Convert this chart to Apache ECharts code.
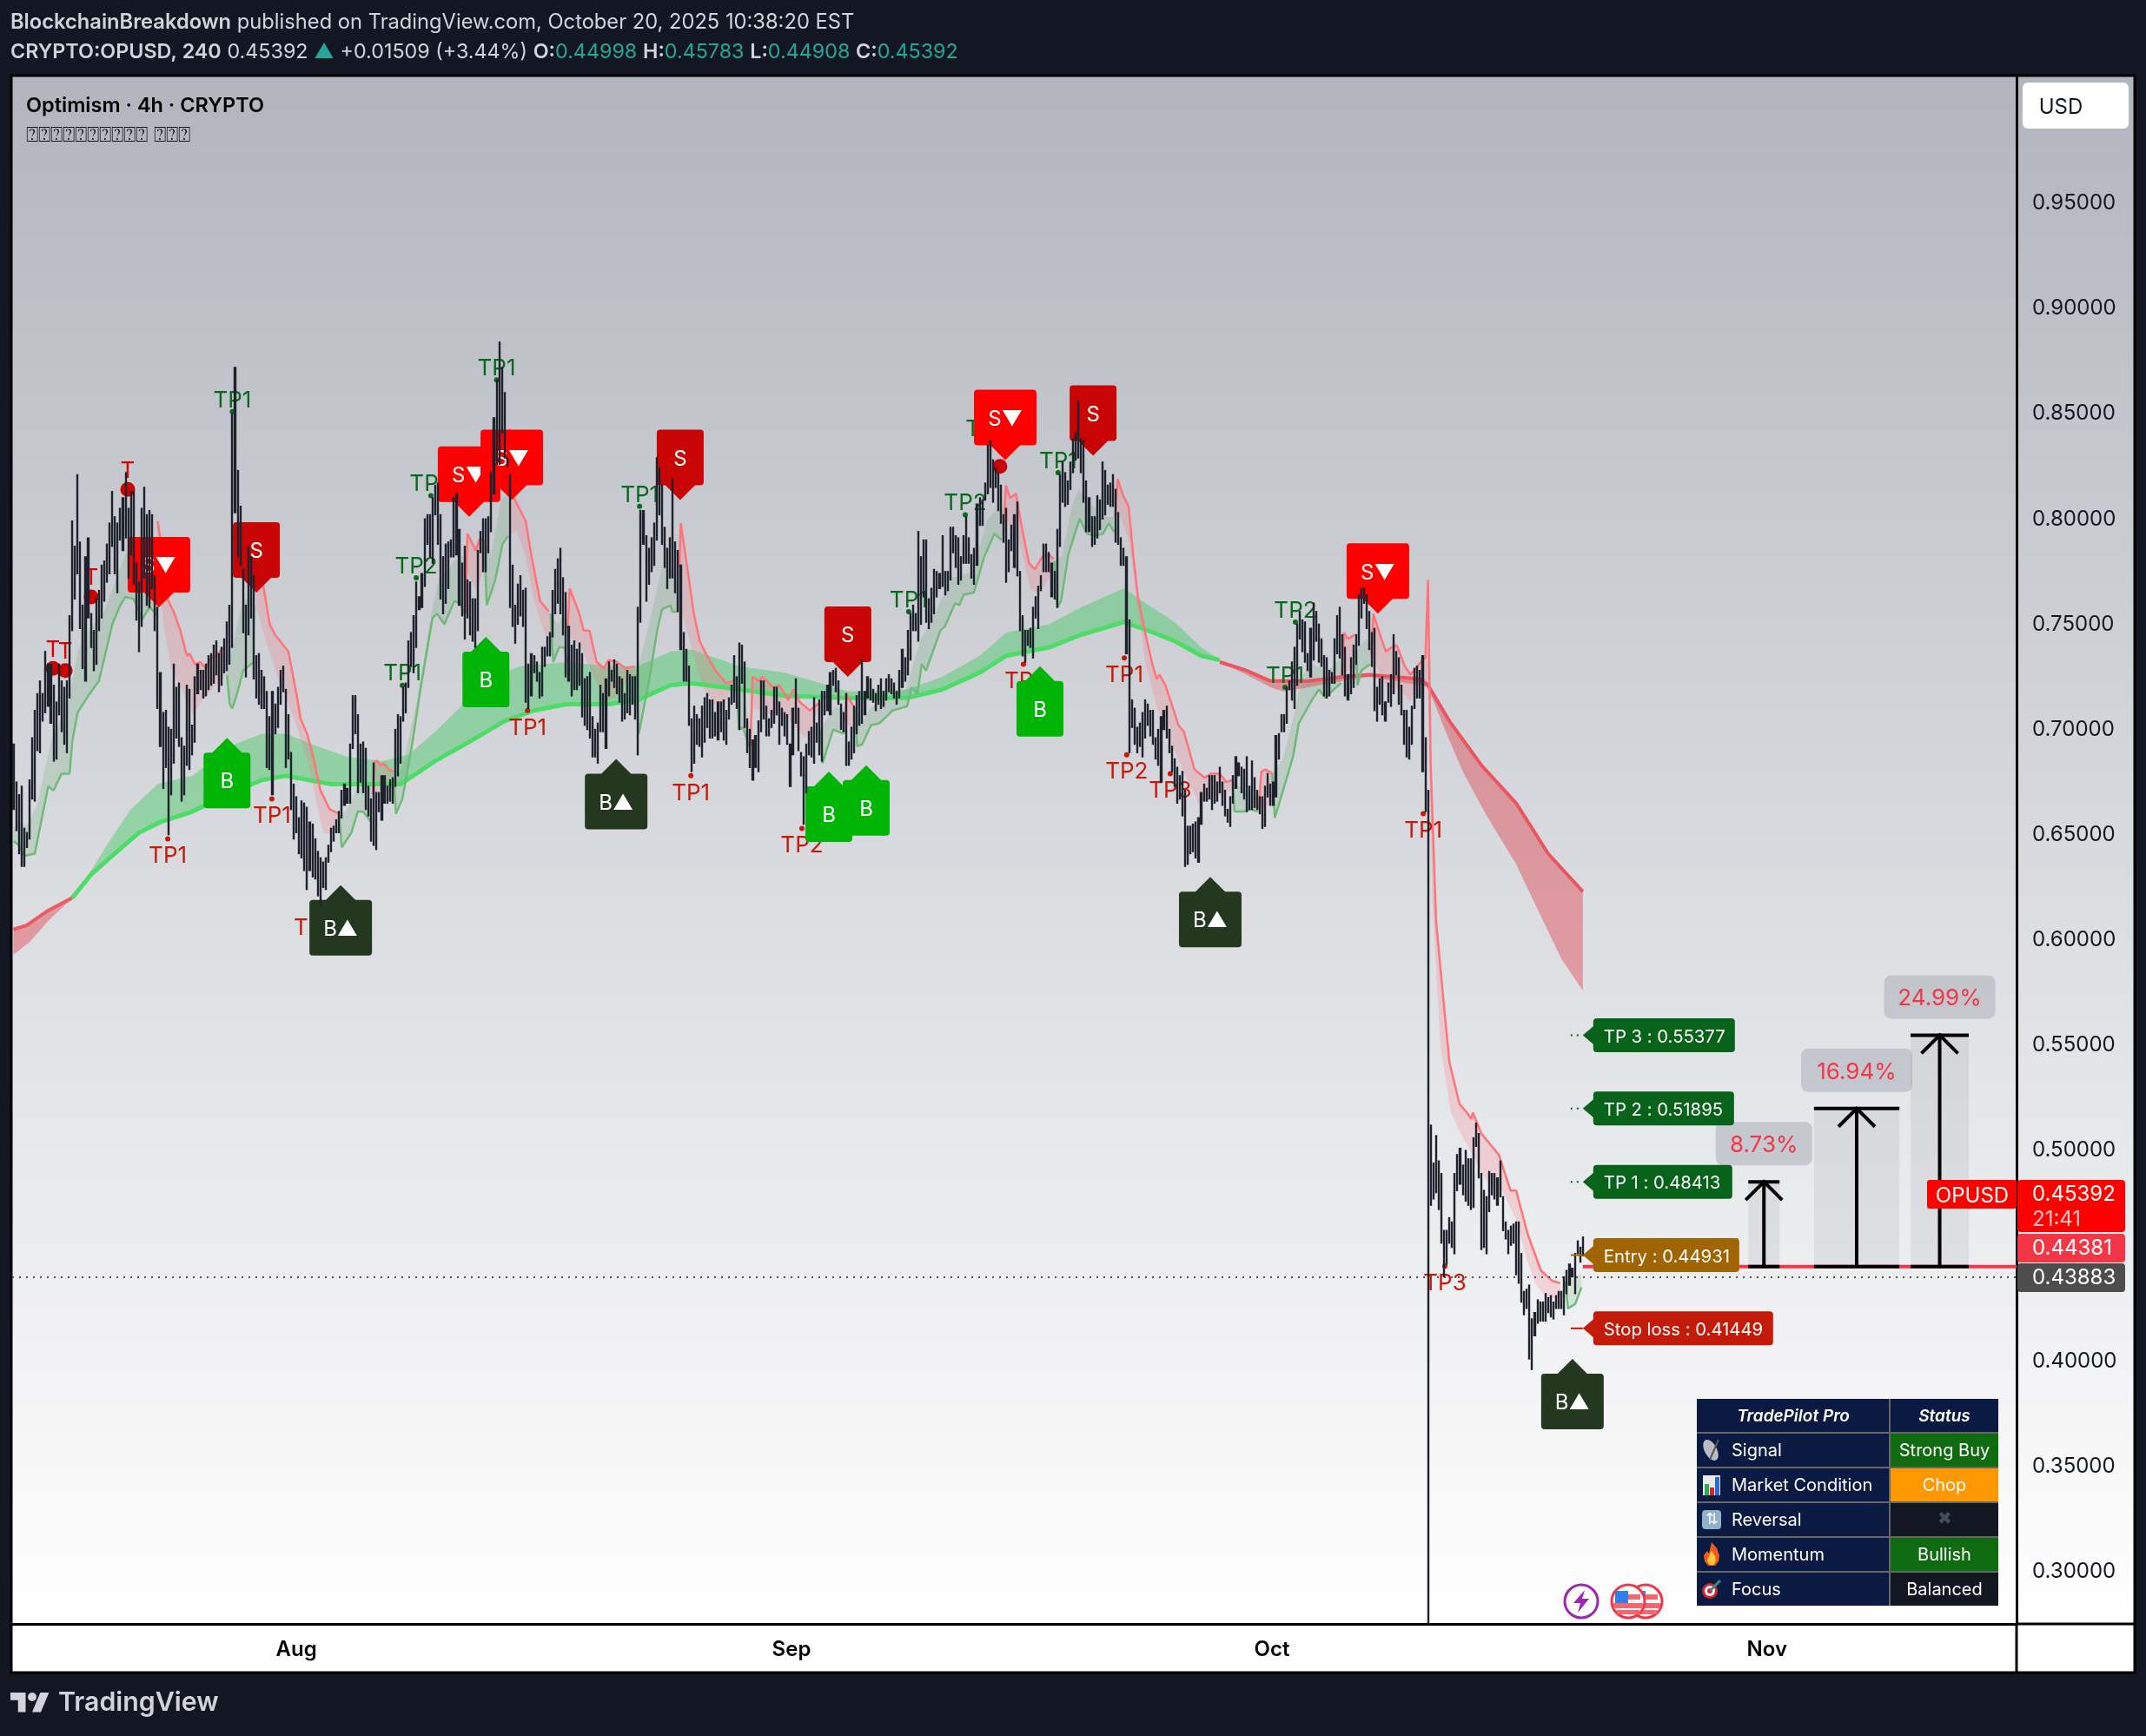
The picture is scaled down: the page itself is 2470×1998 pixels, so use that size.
<!DOCTYPE html>
<html><head><meta charset="utf-8"><style>html,body{margin:0;padding:0;background:#131722}#c{width:2470px;height:1998px}</style>
<script src="https://cdn.jsdelivr.net/npm/echarts@6/dist/echarts.min.js"></script></head><body><div id="c"></div>
<script>
const barRanges=[[.692,.661],[.674,.651],[.668,.640],[.672,.634],[.652,.634],[.650,.643],[.675,.647],[.695,.666],[.708,.665],[.716,.689],
[.722,.688],[.716,.703],[.736,.707],[.730,.710],[.730,.702],[.720,.684],[.712,.685],[.730,.706],[.722,.698],[.719,.692],
[.722,.688],[.753,.714],[.798,.746],[.786,.761],[.820,.773],[.788,.747],[.758,.728],[.781,.722],[.790,.752],[.754,.738],
[.746,.727],[.761,.730],[.765,.746],[.777,.752],[.779,.760],[.787,.769],[.797,.773],[.812,.786],[.800,.773],[.797,.764],
[.804,.789],[.809,.784],[.821,.790],[.804,.771],[.812,.782],[.812,.768],[.778,.751],[.769,.736],[.804,.748],[.814,.771],
[.801,.758],[.803,.757],[.801,.766],[.772,.746],[.757,.709],[.726,.691],[.707,.671],[.708,.681],[.700,.649],[.699,.668],
[.730,.683],[.719,.695],[.721,.691],[.695,.665],[.691,.668],[.720,.682],[.718,.680],[.701,.687],[.724,.693],[.730,.716],
[.727,.718],[.727,.714],[.730,.715],[.734,.718],[.735,.720],[.739,.721],[.741,.725],[.735,.717],[.738,.720],[.742,.726],
[.750,.727],[.758,.730],[.849,.738],[.871,.802],[.822,.781],[.805,.777],[.775,.745],[.758,.724],[.786,.744],[.781,.752],
[.772,.723],[.734,.714],[.735,.711],[.727,.709],[.724,.709],[.717,.681],[.705,.680],[.717,.668],[.711,.697],[.719,.700],
[.727,.711],[.729,.717],[.718,.681],[.706,.685],[.688,.661],[.673,.647],
[.667,.650],[.657,.640],[.665,.638],[.664,.632],[.662,.623],[.655,.632],[.654,.629],[.647,.628],[.641,.620],[.638,.615],
[.636,.624],[.638,.623],[.644,.636],[.652,.641],[.653,.646],[.656,.650],[.660,.650],[.670,.657],[.673,.663],[.671,.664],
[.692,.664],[.715,.690],[.715,.697],[.706,.669],[.692,.674],[.693,.669],[.690,.661],[.672,.658],[.666,.646],[.683,.644],
[.669,.642],[.669,.660],[.677,.656],[.677,.664],[.672,.664],[.675,.665],[.676,.664],[.699,.672],[.706,.677],[.705,.683],
[.719,.703],[.721,.707],[.741,.719],[.745,.729],[.753,.726],[.769,.738],[.762,.756],[.773,.757],[.799,.767],[.801,.787],
[.801,.781],[.809,.778],[.815,.801],[.816,.787],[.801,.761],[.781,.754],[.787,.759],[.788,.766],[.789,.781],[.809,.781],
[.811,.782],[.794,.758],[.778,.753],[.786,.742],[.770,.752],[.769,.744],[.761,.741],[.761,.738],[.784,.746],[.793,.783],
[.799,.774],[.799,.774],[.800,.783],[.821,.793],[.847,.811],[.865,.825],[.883,.825],[.871,.840],[.859,.828],[.828,.824],
[.820,.757],[.777,.748],[.758,.740],[.768,.749],[.772,.753],[.765,.748],[.766,.712],[.730,.709],[.735,.715],[.734,.726],
[.731,.722],[.726,.714],[.738,.715],[.738,.729],[.743,.734],[.745,.734],[.765,.743],[.775,.754],[.780,.759],[.785,.754],
[.771,.744],[.764,.724],[.748,.722],[.739,.715],[.741,.718],[.737,.718],
[.740,.720],[.735,.705],[.723,.701],[.724,.699],[.726,.695],[.705,.686],[.699,.686],[.702,.683],[.720,.698],[.716,.698],
[.723,.690],[.731,.715],[.727,.722],[.732,.719],[.730,.716],[.724,.712],[.723,.703],[.716,.704],[.727,.707],[.725,.706],
[.724,.711],[.724,.704],[.757,.687],[.803,.750],[.803,.787],[.791,.760],[.785,.768],[.790,.774],[.797,.777],[.828,.789],
[.823,.801],[.815,.787],[.795,.776],[.785,.766],[.790,.771],[.818,.771],[.788,.764],[.784,.755],[.777,.737],[.745,.722],
[.737,.722],[.729,.701],[.704,.679],[.710,.683],[.706,.692],[.704,.691],[.710,.686],[.714,.693],[.716,.700],[.713,.695],
[.713,.695],[.707,.696],[.712,.694],[.712,.698],[.713,.694],[.708,.692],[.714,.704],[.720,.711],[.734,.712],[.724,.709],
[.740,.699],[.739,.721],[.731,.700],[.704,.688],[.699,.681],[.694,.675],[.696,.681],[.703,.679],[.722,.698],[.722,.704],
[.710,.696],[.704,.696],[.708,.700],[.719,.702],[.719,.706],[.712,.692],[.709,.701],[.707,.696],[.706,.692],[.692,.672],
[.709,.687],[.723,.702],[.709,.689],[.688,.677],[.686,.654],[.692,.669],[.698,.687],[.700,.686],[.714,.683],[.702,.693],
[.713,.687],[.717,.684],[.717,.706],[.720,.708],[.726,.706],[.727,.720],[.728,.717],[.722,.711],[.711,.699],[.707,.698],
[.716,.682],[.693,.682],[.700,.685],[.710,.688],[.715,.697],[.717,.701],[.732,.702],
[.717,.706],[.724,.714],[.723,.713],[.718,.712],[.716,.708],[.720,.711],[.723,.709],[.717,.710],[.723,.713],[.725,.717],
[.723,.716],[.721,.714],[.717,.711],[.727,.714],[.737,.719],[.733,.722],[.746,.725],[.754,.732],[.758,.746],[.754,.746],
[.793,.741],[.781,.749],[.789,.762],[.789,.750],[.761,.747],[.766,.750],[.775,.754],[.774,.762],[.773,.766],[.791,.767],
[.774,.763],[.774,.765],[.795,.770],[.795,.783],[.791,.776],[.790,.768],[.781,.770],[.791,.778],[.800,.778],[.790,.778],
[.782,.771],[.785,.768],[.806,.777],[.809,.796],[.808,.796],[.816,.808],[.834,.811],[.836,.814],[.827,.807],[.823,.814],
[.821,.803],[.815,.797],[.801,.788],[.804,.769],[.789,.774],[.796,.784],[.801,.776],[.807,.772],[.774,.746],[.753,.734],
[.746,.731],[.746,.739],[.747,.738],[.757,.733],[.762,.752],[.767,.747],[.772,.765],[.787,.774],[.787,.774],[.783,.774],
[.778,.762],[.774,.761],[.794,.757],[.820,.786],[.826,.807],[.821,.805],[.817,.806],[.826,.813],[.837,.821],[.840,.827],
[.855,.828],[.837,.821],[.836,.807],[.817,.793],[.809,.793],[.800,.786],[.800,.787],[.810,.790],[.808,.794],[.826,.799],
[.822,.801],[.815,.806],[.816,.805],[.820,.805],[.813,.788],[.802,.787],[.790,.777],[.785,.777],[.781,.735],[.751,.688],
[.713,.700],[.709,.692],[.700,.688],[.702,.691],[.707,.686],[.713,.695],
[.711,.701],[.708,.696],[.708,.692],[.695,.685],[.699,.682],[.705,.674],[.708,.699],[.710,.695],[.699,.688],[.691,.679],
[.685,.672],[.681,.664],[.677,.666],[.679,.658],[.670,.634],[.653,.635],[.653,.640],[.654,.641],[.655,.638],[.657,.636],
[.669,.654],[.673,.665],[.671,.665],[.677,.666],[.677,.661],[.677,.664],[.674,.665],[.681,.669],[.674,.663],[.670,.658],
[.661,.655],[.667,.653],[.677,.664],[.686,.671],[.683,.677],[.681,.669],[.680,.666],[.686,.660],[.672,.661],[.684,.661],
[.676,.662],[.670,.661],[.667,.659],[.667,.652],[.672,.653],[.678,.667],[.673,.663],[.674,.663],[.696,.667],[.697,.685],
[.706,.698],[.706,.698],[.719,.702],[.722,.718],[.731,.713],[.738,.709],[.749,.720],[.755,.742],[.751,.736],[.750,.731],
[.735,.727],[.747,.724],[.759,.732],[.755,.741],[.749,.731],[.742,.729],[.734,.715],[.733,.714],[.727,.715],[.726,.721],
[.742,.721],[.753,.735],[.757,.733],[.744,.725],[.738,.715],[.725,.713],[.733,.716],[.739,.719],[.744,.730],[.763,.739],
[.766,.752],[.766,.759],[.763,.747],[.755,.737],[.745,.729],[.747,.708],[.719,.703],[.723,.711],[.724,.706],[.712,.703],
[.721,.712],[.725,.710],[.744,.716],[.736,.725],[.733,.711],[.720,.706],[.708,.692],[.708,.686],[.700,.685],[.710,.692],
[.728,.709],[.729,.714],[.727,.714],[.734,.679],[.695,.660],[.670,.2745],
[.511,.473],[.493,.476],[.506,.479],[.494,.471],[.488,.455],[.461,.439],[.461,.445],[.467,.455],[.465,.453],[.488,.450],
[.497,.480],[.500,.483],[.492,.478],[.499,.475],[.495,.473],[.495,.471],[.505,.472],[.512,.501],[.507,.486],[.488,.452],
[.480,.453],[.477,.450],[.489,.470],[.488,.478],[.488,.476],[.486,.473],[.494,.477],[.477,.461],[.465,.457],[.461,.450],
[.463,.454],[.464,.455],[.465,.440],[.465,.436],[.450,.427],[.432,.421],[.433,.424],[.435,.400],[.419,.395],[.422,.411],
[.428,.417],[.427,.418],[.427,.418],[.431,.418],[.429,.422],[.430,.420],[.427,.419],[.430,.424],[.432,.424],[.432,.424],
[.439,.421],[.442,.431],[.445,.435],[.443,.439],[.450,.431],[.456,.450],[.453,.446],[.45783,.44908]];

const slowRedStart={line:[[0,.604],[5,.606],[13,.613],[22,.619]],edge:[[0,.592],[6,.598],[13,.608],[22,.619]]};
const slowGreen={line:[[22,.619],[29,.630],[37,.639],[47,.650],[55,.655],[67,.660],[80,.668],[93,.675],[102,.677],[119,.673],[132,.673],[145,.673],[158,.684],[172,.694],[184,.703],[195,.708],[207,.711],[223,.711],[234,.713],[246,.720],[254,.721],[272,.718],[289,.715],[312,.714],[335,.714],[348,.718],[362,.726],[372,.734],[388,.738],[400,.744],[416,.750],[423,.747],[435,.741],[445,.734],[452,.732]],
edge:[[22,.619],[29,.632],[37,.648],[44,.661],[54,.673],[67,.677],[83,.692],[93,.697],[102,.697],[114,.691],[125,.686],[138,.684],[148,.687],[158,.698],[167,.709],[177,.723],[190,.729],[207,.731],[223,.729],[234,.729],[246,.736],[254,.737],[272,.729],[289,.726],[313,.717],[335,.718],[348,.724],[362,.734],[372,.745],[388,.749],[400,.757],[416,.766],[423,.760],[435,.750],[445,.738],[452,.732]]};
const slowRedEnd={line:[[452,.731],[462,.727],[471,.722],[476,.722],[485,.722],[498,.724],[508,.725],[517,.724],[527,.723],[530,.720],[538,.703],[550,.682],[563,.664],[575,.640],[588,.622]],
edge:[[452,.731],[462,.725],[471,.719],[476,.717],[485,.719],[498,.722],[508,.724],[517,.722],[527,.720],[530,.719],[536,.700],[543,.679],[552,.658],[563,.635],[572,.611],[580,.590],[588,.575]]};

const fastGreen=[
{line:[[0,.646],[2,.644],[4,.639],[8,.640],[10,.653],[13,.672],[15,.670],[18,.678],[21,.678],[22,.693],[24,.707],[28,.715],[32,.722],[35,.738],[37,.749],[40,.758],[42,.762],[45,.761],[47,.755],[48,.751],[51,.757],[54,.753]],edge:[[0,.652],[2,.656],[5,.653],[9,.664],[14,.693],[21,.714],[24,.736],[28,.746],[34,.755],[38,.769],[42,.782],[45,.788],[51,.788],[54,.772]]},
{line:[[80,.725],[81,.711],[82,.709],[84,.717],[86,.727],[88,.729],[90,.731]],edge:[[80,.725],[83,.744],[86,.761],[89,.762],[91,.757]]},
{line:[[122,.658],[123,.643],[126.6,.650],[129,.660],[131,.660],[134,.655]],edge:[[122,.658],[125,.661],[129,.672],[132,.672],[134,.672]]},
{line:[[142.7,.672],[143.3,.659],[145.7,.666],[149.5,.693],[152.7,.720],[157,.752],[158.7,.754],[161.4,.749],[165.2,.760],[167.4,.759],[168.8,.754]],edge:[[142.7,.672],[146,.683],[151,.712],[157,.757],[159,.769],[165.2,.779],[168.8,.782]]},
{line:[[176.4,.789],[177.3,.758],[180.5,.770],[183.2,.787],[185.3,.791]],edge:[[176.4,.789],[179,.782],[182.6,.808],[185.3,.811]]},
{line:[[201.2,.754],[202.2,.731],[204.4,.738],[206.5,.738],[207.3,.731]],edge:[[201.2,.754],[204,.749],[205.5,.753],[207.3,.752]]},
{line:[[233,.725],[234.3,.697],[238.1,.722],[241.3,.747],[243,.756],[246.2,.758],[246.8,.755],[248.7,.755]],edge:[[233,.725],[236,.738],[239,.754],[243,.776],[246,.776],[248.7,.769]]},
{line:[[270.7,.724],[271.8,.699],[273.4,.700],[275.6,.691]],edge:[[270.7,.724],[274,.716],[275.6,.699]]},
{line:[[302.4,.699],[303.1,.683],[307.1,.699],[310.9,.697],[311.5,.699]],edge:[[302.4,.699],[307.7,.710],[311.5,.709]]},
{line:[[315.3,.709],[316.1,.691],[318,.692],[321.3,.701],[324.5,.702],[329.4,.708],[334.8,.710],[336.5,.719],[338.7,.716],[340.3,.730],[341.9,.727],[347.3,.746],[349,.748],[352.8,.759],[354.4,.758],[356,.763],[359.8,.764],[363.7,.781],[367.5,.792],[370.2,.789]],edge:[[315.3,.709],[318,.703],[321.3,.710],[324.5,.712],[330,.716],[334.3,.718],[339.7,.741],[346.3,.757],[351.7,.771],[359.3,.774],[364.7,.798],[369,.805],[370.7,.804]]},
{line:[[390,.779],[391,.757],[392.5,.760],[395.2,.782],[397.9,.793],[399.5,.799],[402.2,.792],[405,.791],[408.2,.792],[410.4,.797],[412.3,.793]],edge:[[390,.779],[393,.782],[396.3,.804],[399,.813],[403.9,.806],[408.2,.800],[412.3,.800]]},
{line:[[456.8,.675],[457.5,.660],[461,.660],[463.7,.661],[466.2,.660]],edge:[[456.8,.675],[461,.670],[466.4,.668]]},
{line:[[471.6,.678],[472.6,.657],[479.4,.686],[481.6,.702],[486.5,.713],[489.2,.718],[491.4,.714],[494.7,.718],[497.4,.721]],edge:[[471.6,.678],[475.6,.685],[479.4,.704],[483.2,.725],[487,.730],[492,.727],[497.4,.733]]},
{line:[[503,.736],[503.6,.720],[505,.727],[508.2,.730]],edge:[[503,.736],[506.6,.742],[508.8,.741]]},
{line:[[581.5,.437],[582.4,.424],[585.1,.426],[587.5,.434]],edge:[[581.5,.437],[584.2,.438],[587.5,.441]]}];

const fastRed=[
{line:[[54,.798],[56,.781],[58,.760],[60,.755],[62.5,.746],[65,.734],[66,.735],[68,.730],[70,.731],[72,.728],[74,.733],[76,.734],[78,.737],[79,.738]],edge:[[54,.773],[56.5,.747],[59,.728],[63,.718],[67,.706],[72,.715],[76,.720],[79,.725]]},
{line:[[91,.773],[93.5,.768],[96,.749],[98,.744],[103,.736],[106,.716],[107.6,.704],[110,.697],[112.5,.685],[115,.670],[118.5,.661],[122,.659]],edge:[[91,.757],[94.5,.741],[100,.720],[106,.701],[108,.693],[111,.680],[113.6,.664],[116,.650],[119.6,.649],[122,.659]]},
{line:[[134.5,.668],[135.3,.684],[136.4,.684],[137.5,.682],[138.6,.683],[140.8,.680],[142.4,.679]],edge:[[134.5,.666],[138.6,.672],[142.4,.677]]},
{line:[[169.3,.754],[170.1,.792],[173.2,.784],[174.5,.789],[176.1,.789]],edge:[[169.3,.754],[170.1,.773],[173.4,.765],[176.1,.774]]},
{line:[[185.9,.842],[187.5,.809],[191.9,.798],[194,.782],[197.3,.760],[200.6,.755]],edge:[[185.9,.792],[188.6,.793],[191.9,.781],[195,.760],[199.5,.743],[201.4,.744]]},
{line:[[207.6,.747],[208.4,.766],[212,.754],[213.6,.746],[215.8,.746],[218.5,.731],[221.2,.728],[222.9,.732],[226.1,.731],[229.4,.728],[232.7,.729]],edge:[[207.6,.747],[209.7,.741],[212,.740],[215,.731],[219,.720],[222,.712],[226,.715],[230,.722],[233,.725]]},
{line:[[249.5,.776],[250,.797],[252.2,.778],[254.9,.754],[257.1,.741],[259.8,.734],[263.1,.727],[266.9,.721],[269.6,.722]],edge:[[249.5,.757],[252.2,.747],[255.5,.731],[258.7,.718],[263.1,.711],[266.3,.710],[269.6,.722]]},
{line:[[276.1,.691],[276.9,.724],[279.4,.722],[280.5,.724],[284.8,.719],[287,.720],[290.3,.713],[292.2,.718],[294.6,.712],[298.4,.708],[302.2,.712]],edge:[[276.1,.691],[277.2,.709],[283.7,.706],[290.3,.704],[296.8,.695],[302.2,.709]]},
{line:[[311.7,.703],[312,.716],[314.7,.710]],edge:[[311.7,.703],[315,.697]]},
{line:[[370.9,.792],[371.8,.815],[373.4,.809],[375.6,.811],[377.8,.795],[380.5,.778],[382.7,.775],[385.4,.781],[388.1,.782],[389.7,.780]],edge:[[370.9,.792],[372.3,.798],[376.7,.789],[381,.766],[384.3,.763],[389.7,.774]]},
{line:[[412.8,.800],[413.7,.818],[415.8,.810],[417.8,.805],[419.6,.781],[421.3,.762],[424,.745],[426.7,.730],[428.3,.723],[429.4,.725],[431.6,.720],[436.5,.701],[438.5,.698],[442.5,.680],[446.3,.676],[448.5,.678],[452,.678],[454.4,.674],[456.6,.675]],edge:[[412.8,.800],[414.7,.800],[418,.789],[420.7,.762],[424,.731],[428.3,.710],[432.7,.695],[438,.680],[444,.664],[450,.667],[456.6,.670]]},
{line:[[466.6,.661],[467.5,.679],[469.1,.680],[471.8,.678]],edge:[[466.6,.661],[471.8,.664]]},
{line:[[497.7,.725],[498.5,.745],[500,.742],[502.5,.744]],edge:[[497.7,.725],[502.5,.729]]},
{line:[[508.8,.734],[509.5,.754],[512,.744],[514.2,.736],[516.4,.738],[518.3,.739],[521.3,.729],[523.5,.725],[527.3,.731],[529,.733],[530,.770],[531,.682],[533,.608],[535.5,.574],[538,.541],[541.8,.521],[544.6,.517],[546.2,.514],[546.8,.517],[550,.507],[556.5,.497],[560.9,.480],[563,.480],[567.4,.459],[572.3,.442],[576.6,.437],[579.5,.436]],edge:[[508.8,.734],[514.2,.720],[519.7,.717],[523.5,.712],[527.3,.725],[530,.717],[531.5,.620],[534.7,.548],[538.6,.517],[541.9,.508],[546.2,.498],[551.6,.485],[558.2,.479],[563,.466],[566.8,.448],[570.1,.436],[574.4,.429],[579.5,.429]]}];

const greenTargets=[[82,.850,'TP1'],[181,.865,'TP1'],[156.4,.810,'TP2'],[150.9,.771,'TP2'],[145.7,.720,'TP1'],[234.6,.805,'TP1'],[335.4,.755,'TP1'],[356.6,.801,'TP2'],[364.7,.836,'TP3'],[391.4,.821,'TP1'],[480.3,.750,'TP2'],[476.4,.719,'TP1']];
const redTargets=[[57.8,.647,'TP1'],[96.8,.666,'TP1'],[112.1,.613,'TP1'],[192.6,.708,'TP1'],[253.8,.677,'TP1'],[295.4,.652,'TP2'],[378.4,.730,'TP1'],[416.2,.733,'TP1'],[417.1,.687,'TP2'],[433.4,.678,'TP3'],[528.2,.659,'TP1'],[536.3,.444,'TP3']];
const trendDots=[[42.8,.813],[29.1,.762],[14.8,.728],[19.4,.727],[369.6,.824]];
const markerKinds=['S▼','S','S▼','S▼','S','B','B','B▲','B▲','B','B','S','S▼','S','B','S▼','B▲','B▲'];
const markerBars=[54.5,91,170.7,186.7,249.8,80,177,122.6,225.8,305.5,319.5,312.6,371.6,404.5,384.6,511.2,448.4,584.1];
const markerPrices=[.757,.764,.800,.808,.808,.695,.743,.625,.685,.679,.682,.724,.827,.829,.729,.754,.629,.400];
const tagPrices=[.55377,.51895,.48413,.44931,.41449];
const tagTexts=['TP 3 : 0.55377','TP 2 : 0.51895','TP 1 : 0.48413','Entry : 0.44931','Stop loss : 0.41449'];
const zoneFrom=[650,674.6,710.8],zoneTo=[661.7,706.6,732.6],zoneTop=[.48413,.51895,.55377],zoneBase=.44381,zonePct=['8.73%','16.94%','24.99%'];
const priceTicks=[.30,.35,.40,.45,.50,.55,.60,.65,.70,.75,.80,.85,.90,.95];
const monthBars=[106,291.5,471.5,657],monthNames=['Aug','Sep','Oct','Nov'];
const lastPrice=.45392,entryLine=.44381,dottedLine=.43883;

const F='Inter, "Noto Sans", sans-serif';
function bandSeries(seg,fill){return{type:'custom',coordinateSystem:'cartesian2d',silent:true,z:1,animation:false,data:[[0,.5]],
 renderItem:(p,api)=>({type:'polygon',shape:{points:seg.line.concat(seg.edge.slice().reverse()).map(q=>api.coord(q))},style:{fill}})};}
function lineSeries(pts,color,w,z){return{type:'line',data:pts,symbol:'none',silent:true,z:z||2,animation:false,lineStyle:{color,width:w}};}
const series=[];
[[slowRedStart,'rgba(224,60,70,.42)','#ec5a62',4],[slowGreen,'rgba(30,200,70,.36)','#4ddc68',5],[slowRedEnd,'rgba(224,60,70,.42)','#ec5560',4]].forEach(([s,f,c,w])=>{series.push(bandSeries(s,f));series.push(lineSeries(s.line,c,w));});
fastGreen.forEach(s=>{series.push(bandSeries(s,'rgba(76,160,90,.18)'));series.push(lineSeries(s.line,'#6fba78',2.5));});
fastRed.forEach(s=>{series.push(bandSeries(s,'rgba(255,100,110,.2)'));series.push(lineSeries(s.line,'#ff7478',2.5));});
series.push({type:'line',data:[[-.5,dottedLine],[750.5,dottedLine]],symbol:'none',silent:true,z:2,animation:false,lineStyle:{color:'#555',width:2,type:[2,6]}});
series.push({type:'line',data:[[588,entryLine],[750.5,entryLine]],symbol:'none',silent:true,z:2,animation:false,lineStyle:{color:'#f23645',width:4}});
// target zones
series.push({type:'custom',coordinateSystem:'cartesian2d',silent:true,z:3,animation:false,data:zoneTop.map((t,i)=>[zoneFrom[i],t]),
 renderItem:(p,api)=>{const i=p.dataIndex,a=api.coord([zoneFrom[i],zoneTop[i]]),b=api.coord([zoneTo[i],zoneBase]),x=(a[0]+b[0])/2,w=i?128:111;
 return{type:'group',children:[
 {type:'rect',shape:{x:a[0],y:a[1],width:b[0]-a[0],height:b[1]-a[1]},style:{fill:'rgba(130,133,142,.14)'}},
 {type:'line',shape:{x1:a[0],y1:a[1],x2:b[0],y2:a[1]},style:{stroke:'#000',lineWidth:4}},
 {type:'line',shape:{x1:a[0],y1:b[1],x2:b[0],y2:b[1]},style:{stroke:'#000',lineWidth:4}},
 {type:'line',shape:{x1:x,y1:a[1],x2:x,y2:b[1]},style:{stroke:'#000',lineWidth:4}},
 {type:'polyline',shape:{points:[[x-21,a[1]+21],[x,a[1]],[x+21,a[1]+21]]},style:{stroke:'#000',lineWidth:4,fill:null}},
 {type:'rect',shape:{x:x-w/2,y:a[1]-69,width:w,height:50,r:8},style:{fill:'rgba(178,181,190,.62)'}},
 {type:'text',style:{text:zonePct[i],x,y:a[1]-42,align:'center',verticalAlign:'middle',fill:'#f23645',font:'26px '+F}}]};}});
// target dots + text
series.push({type:'scatter',data:greenTargets,symbolSize:6,z:2.5,silent:true,animation:false,itemStyle:{color:'#0a6a1c',opacity:1},label:{show:true,position:'top',distance:-3,formatter:p=>p.value[2],color:'#0a6a1c',fontSize:26,fontFamily:F}});
series.push({type:'scatter',data:redTargets,symbolSize:6,z:2.5,silent:true,animation:false,itemStyle:{color:'#c41a0a',opacity:1},label:{show:true,position:'bottom',distance:4,formatter:p=>p.value[2],color:'#c41a0a',fontSize:26,fontFamily:F}});
series.push({type:'scatter',data:trendDots,symbolSize:17,z:2.5,silent:true,animation:false,itemStyle:{color:'#cc0000',opacity:1},label:{show:true,position:'top',distance:0,formatter:'T',color:'#e00000',fontSize:26,fontFamily:F}});
// signal pins
series.push({type:'custom',coordinateSystem:'cartesian2d',silent:true,z:3,animation:false,data:markerBars.map((b,i)=>[b,markerPrices[i]]),
 renderItem:(p,api)=>{const k=markerKinds[p.dataIndex],c=api.coord([api.value(0),api.value(1)]),x=c[0],y=c[1],w=k.length>1?72:54,h=64,ah=17,down=k[0]==='S';
  const col={'S▼':'#ff0000','S':'#c80404','B':'#00b506','B▲':'#23381f'}[k];
  const top=down?y-ah-h:y+ah,ay=down?y-ah:y+ah;
  return{type:'group',children:[
  {type:'polygon',shape:{points:[[x-18,ay+(down?-1:1)],[x,y],[x+18,ay+(down?-1:1)]]},style:{fill:col}},
  {type:'rect',shape:{x:x-w/2,y:top,width:w,height:h,r:4},style:{fill:col}},
  {type:'text',style:{text:k,x,y:top+h/2+2,align:'center',verticalAlign:'middle',fill:'#fff',font:'24px '+F}}]};}});
// candles
series.push({type:'candlestick',z:4,silent:true,animation:false,barWidth:1.6,encode:{x:0,y:[1,2,3,4]},
 data:barRanges.map((r,i)=>[i,r[1],r[0],r[1],r[0]]),
 itemStyle:{color:'#1e222d',color0:'#1e222d',borderColor:'#1e222d',borderColor0:'#1e222d',borderWidth:1.4}});
// level tags
const tagCols=['#07631a','#07631a','#07631a','#a06400','#c41a0a'],tagW=[163,162,160,168,207];
series.push({type:'custom',coordinateSystem:'cartesian2d',silent:true,z:5,animation:false,data:tagPrices.map(v=>[588,v]),
 renderItem:(p,api)=>{const i=p.dataIndex,c=api.coord([588,tagPrices[i]]),x=c[0],y=c[1],col=tagCols[i];
  return{type:'group',children:[
  {type:'line',shape:{x1:x-14,y1:y,x2:x,y2:y},style:{stroke:col,lineWidth:2,lineDash:i<3?[2,5]:null}},
  {type:'polygon',shape:{points:[[x,y],[x+14,y-12],[x+14,y+12]]},style:{fill:col}},
  {type:'rect',shape:{x:x+12,y:y-19.5,width:tagW[i],height:39,r:4},style:{fill:col}},
  {type:'text',style:{text:tagTexts[i],x:x+24,y:y+2,verticalAlign:'middle',fill:'#fff',font:'20.3px '+F}}]};}});

// page furniture
const g=[];
const rect=(x,y,w,h,fill,r,extra)=>g.push(Object.assign({type:'rect',shape:{x,y,width:w,height:h,r:r||0},style:{fill},silent:true},extra||{}));
const txt=(x,y,text,font,fill,align,z)=>g.push({type:'text',silent:true,z:z||0,style:{x,y,text,font:font+' '+F,fill,align:align||'left',verticalAlign:'middle'}});
const poly=(pts,fill,z)=>g.push({type:'polygon',silent:true,z:z||0,shape:{points:pts},style:{fill}});
const HZ=10;
rect(14,88,2442,1781,new echarts.graphic.LinearGradient(0,0,0,1,[{offset:0,color:'#b2b5be'},{offset:1,color:'#ffffff'}]),0,{z:-10});
rect(14,1869,2442,55,'#ffffff',0,{z:-10});
g.push({type:'rect',z:-9,silent:true,shape:{x:13,y:87,width:2444,height:1838},style:{fill:null,stroke:'#000',lineWidth:3}});
g.push({type:'line',z:-9,silent:true,shape:{x1:2321,y1:1869,x2:2456,y2:1869},style:{stroke:'#000',lineWidth:3}});
g.push({type:'line',z:-9,silent:true,shape:{x1:2321,y1:1869,x2:2321,y2:1924},style:{stroke:'#000',lineWidth:3}});
// header
g.push({type:'text',silent:true,style:{x:12,y:26,verticalAlign:'middle',fill:'#d1d4dc',font:'24px '+F,text:'{b|BlockchainBreakdown} {n|published on TradingView.com, October 20, 2025 10:38:20 EST}',rich:{b:{font:'600 23.7px '+F,fill:'#d1d4dc'},n:{font:'23.7px '+F,fill:'#d1d4dc'}}}});
g.push({type:'text',silent:true,style:{x:12,y:60,verticalAlign:'middle',fill:'#d1d4dc',font:'24px '+F,text:'{b|CRYPTO:OPUSD, 240} {n|'+lastPrice.toFixed(5)+'} {t|▲} {n|+0.01509 (+3.44%)} {b|O:}{t|0.44998} {b|H:}{t|0.45783} {b|L:}{t|0.44908} {b|C:}{t|0.45392}',rich:{b:{font:'600 23.3px '+F,fill:'#d1d4dc'},n:{font:'23.3px '+F,fill:'#d1d4dc'},t:{font:'23.3px '+F,fill:'#26a69a'}}}});
txt(30,122,'Optimism · 4h · CRYPTO','600 23.5px','#000');
txt(30,156,'⍰⍰⍰⍰⍰⍰⍰⍰⍰⍰ ⍰⍰⍰','24px','#131722');
// USD button
rect(2328,95,122,53,'#ffffff',6,{z:HZ});
txt(2372,124,'USD','24px','#131722','center',HZ+1);
// price tags
rect(2218,1358,103,33,'#ff0000',3,{z:HZ});txt(2270,1377,'OPUSD','24px','#fff','center',HZ+1);
rect(2322,1358,124,60,'#ff0000',4,{z:HZ});txt(2339,1375,lastPrice.toFixed(5),'24px','#fff','left',HZ+1);txt(2339,1404,'21:41','24px','#ffc9c9','left',HZ+1);
rect(2322,1420,124,33,'#f23645',4,{z:HZ});txt(2339,1437,entryLine.toFixed(5),'24px','#fff','left',HZ+1);
rect(2322,1454,124,33,'#4d4d4d',4,{z:HZ});txt(2339,1471,dottedLine.toFixed(5),'24px','#fff','left',HZ+1);
// table
rect(1953,1610,347,238,'#666666',0,{z:HZ});
const rowsY=[1650,1690,1730,1770,1810],rowNames=['Signal','Market Condition','Reversal','Momentum','Focus'],rowVals=['Strong Buy','Chop','✖','Bullish','Balanced'],rowCols=['#0f6b10','#ff9800','#131722','#0f6b10','#131722'];
rect(1953,1610,221,38,'#0a1a42',0,{z:HZ+1});rect(2176,1610,124,38,'#0a1a42',0,{z:HZ+1});
txt(2064,1630,'TradePilot Pro','italic 600 19px','#fff','center',HZ+2);txt(2238,1630,'Status','italic 600 19px','#fff','center',HZ+2);
rowsY.forEach((y,i)=>{rect(1953,y,221,38,'#0a1a42',0,{z:HZ+1});rect(2176,y,124,38,rowCols[i],0,{z:HZ+1});
 txt(1993,y+20,rowNames[i],'20px','#fff','left',HZ+2);txt(2238,y+(i==2?18:20),rowVals[i],'20px',i==2?'#4a4d55':'#fff','center',HZ+2);});
const IZ=HZ+3,ix=1970;
g.push({type:'ellipse',silent:true,z:IZ,shape:{cx:ix-1,cy:1669,rx:7,ry:13},rotation:.5,originX:ix-1,originY:1669,style:{fill:'#b9bcc4'}});
g.push({type:'line',silent:true,z:IZ,shape:{x1:ix+8,y1:1657,x2:ix-2,y2:1680},style:{stroke:'#555',lineWidth:2}});
rect(ix-10,1698,20,23,'#e8eaee',0,{z:IZ});rect(ix-8,1708,5,13,'#22b14c',0,{z:IZ});rect(ix-2,1712,5,9,'#d8222a',0,{z:IZ});rect(ix+4,1700,5,21,'#2a6ad8',0,{z:IZ});
rect(ix-11,1738,22,22,'#8fb2ca',4,{z:IZ});txt(ix,1749,'⇅','18px','#fff','center',IZ+1);
poly([[ix,1775],[ix+6,1782],[ix+9,1790],[ix+8,1797],[ix+4,1802],[ix-4,1802],[ix-8,1797],[ix-9,1790],[ix-5,1785],[ix-3,1788]],'#f25a1a',IZ);
poly([[ix,1785],[ix+4,1791],[ix+5,1796],[ix+2,1801],[ix-2,1801],[ix-5,1796],[ix-3,1791]],'#ffc83c',IZ+1);
[[9,'#d8222a'],[6,'#fff'],[3,'#d8222a']].forEach(([r,c])=>g.push({type:'circle',silent:true,z:IZ,shape:{cx:ix-2,cy:1831,r},style:{fill:c}}));
g.push({type:'line',silent:true,z:IZ+1,shape:{x1:ix-2,y1:1831,x2:ix+10,y2:1819},style:{stroke:'#3c8e8e',lineWidth:3}});
// session icons
g.push({type:'circle',silent:true,z:HZ,shape:{cx:1820,cy:1843,r:19},style:{fill:'#fff',stroke:'#9c27b0',lineWidth:3}});
poly([[1824,1830],[1811,1845],[1819,1845],[1816,1856],[1829,1840],[1821,1840]],'#9c27b0',HZ+1);
[1894,1874].forEach((cx,n)=>{g.push({type:'circle',silent:true,z:HZ+n*3,shape:{cx,cy:1843,r:19},style:{fill:'#fff',stroke:'#f23645',lineWidth:3}});
 [[-7,6,28],[3,6,34],[11,5,26]].forEach(([dy,h,w])=>rect(cx-w/2,1843+dy-1,w,h,'#f7666e',0,{z:HZ+n*3+1}));
 rect(cx-15,1831,15,14,'#2f80ed',0,{z:HZ+n*3+2});});
// logo
const lg=(a)=>a.map(([x,y])=>[12+x*1.25,1943+y*1.25]);
poly(lg([[14,22],[7,22],[7,11],[0,11],[0,4],[14,4]]),'#d1d4dc');
poly(lg([[28,22],[20,22],[27.5,4],[35.5,4]]),'#d1d4dc');
g.push({type:'circle',silent:true,shape:{cx:37,cy:1953,r:5},style:{fill:'#d1d4dc'}});
txt(67,1960,'TradingView','600 30.3px','#d1d4dc');

echarts.init(document.getElementById('c'),null,{renderer:'canvas'}).setOption({
 backgroundColor:'#131722',animation:false,tooltip:{show:false},legend:{show:false},graphic:{elements:g},
 grid:{left:14,top:88,width:2307,height:1781,containLabel:false},
 xAxis:{type:'value',min:-.5,max:750.5,splitLine:{show:false},axisTick:{show:false},
  axisLine:{show:true,onZero:false,lineStyle:{color:'#000',width:3}},
  axisLabel:{customValues:monthBars,formatter:v=>monthNames[monthBars.indexOf(v)]||'',color:'#000',fontWeight:600,fontSize:24,fontFamily:F,margin:18}},
 yAxis:{type:'value',position:'right',min:.2741,max:1.0092,scale:true,splitLine:{show:false},axisTick:{show:false},
  axisLine:{show:true,onZero:false,lineStyle:{color:'#000',width:3}},
  axisLabel:{customValues:priceTicks,formatter:v=>'{a|'+v.toFixed(5)+'}',margin:18,align:'left',rich:{a:{color:'#131722',fontSize:24,fontFamily:F,padding:[5,0,0,0]}}}},
 series});
</script></body></html>
